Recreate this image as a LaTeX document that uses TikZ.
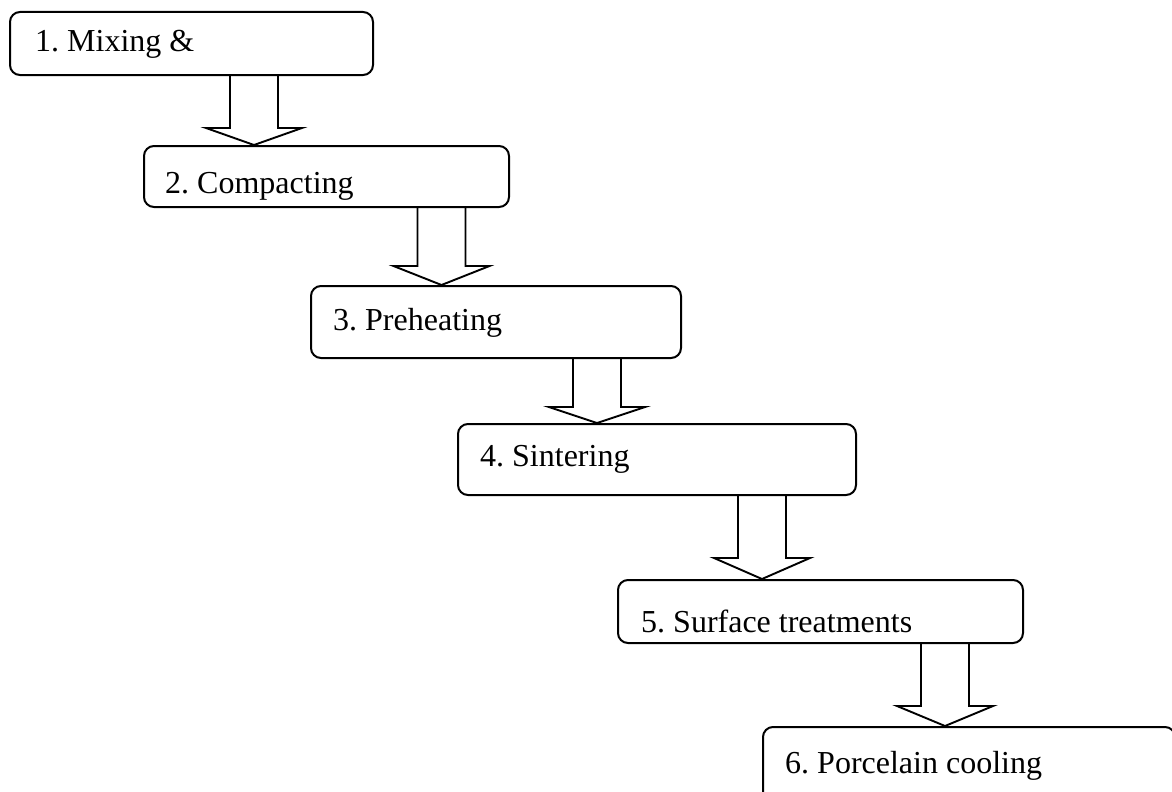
\documentclass[tikz,border=0pt]{standalone}
\usepackage{fontspec}
\setmainfont{Liberation Serif}
\frenchspacing
\begin{document}
\begin{tikzpicture}[x=1pt,y=-1pt,
  stepbox/.style={draw, line width=2pt, rounded corners=10pt, anchor=north west, inner sep=0pt},
  lbl/.style={anchor=base west, inner sep=0pt, font=\fontsize{32}{38}\selectfont},
  barrow/.style={draw, line width=1.9pt, line join=miter}]
\useasboundingbox (0,0) rectangle (1172,792);
\clip (0,0) rectangle (1172,792);
% boxes
\node[stepbox, minimum width=363pt, minimum height=63pt] (b1) at (9,11) {};
\node[stepbox, minimum width=365pt, minimum height=61pt] (b2) at (143,145) {};
\node[stepbox, minimum width=370pt, minimum height=72pt] (b3) at (310,285) {};
\node[stepbox, minimum width=398pt, minimum height=71pt] (b4) at (457,423) {};
\node[stepbox, minimum width=405pt, minimum height=63pt] (b5) at (617,579) {};
\node[stepbox, minimum width=412pt, minimum height=90pt] (b6) at (762,726) {};
% labels
\node[lbl] (l1) at (35,52) {1. Mixing \&};
\node[lbl] (l2) at (165,193) {2. Compacting};
\node[lbl] (l3) at (333,330) {3. Preheating};
\node[lbl] (l4) at (480,466) {4. Sintering};
\node[lbl] (l5) at (641,632) {5. Surface treatments};
\node[lbl] (l6) at (785,773) {6. Porcelain cooling};
% block arrows
\newcommand\blockarr[3]{%
  \draw[barrow] ([xshift=-24pt]#1) -- ([xshift=-24pt,yshift=#3]#2) -- ([xshift=-48pt,yshift=#3]#2) -- (#2)
    -- ([xshift=48pt,yshift=#3]#2) -- ([xshift=24pt,yshift=#3]#2) -- ([xshift=24pt]#1);}
\coordinate (s1) at (254,0 |- b1.south);   \coordinate (t1) at (254,0 |- b2.north);
\coordinate (s2) at (441.5,0 |- b2.south); \coordinate (t2) at (441.5,0 |- b3.north);
\coordinate (s3) at (597,0 |- b3.south);   \coordinate (t3) at (597,0 |- b4.north);
\coordinate (s4) at (762,0 |- b4.south);   \coordinate (t4) at (762,0 |- b5.north);
\coordinate (s5) at (945,0 |- b5.south);   \coordinate (t5) at (945,0 |- b6.north);
\blockarr{s1}{t1}{17pt}
\blockarr{s2}{t2}{19pt}
\blockarr{s3}{t3}{16pt}
\blockarr{s4}{t4}{21pt}
\blockarr{s5}{t5}{20pt}
\end{tikzpicture}
\end{document}
